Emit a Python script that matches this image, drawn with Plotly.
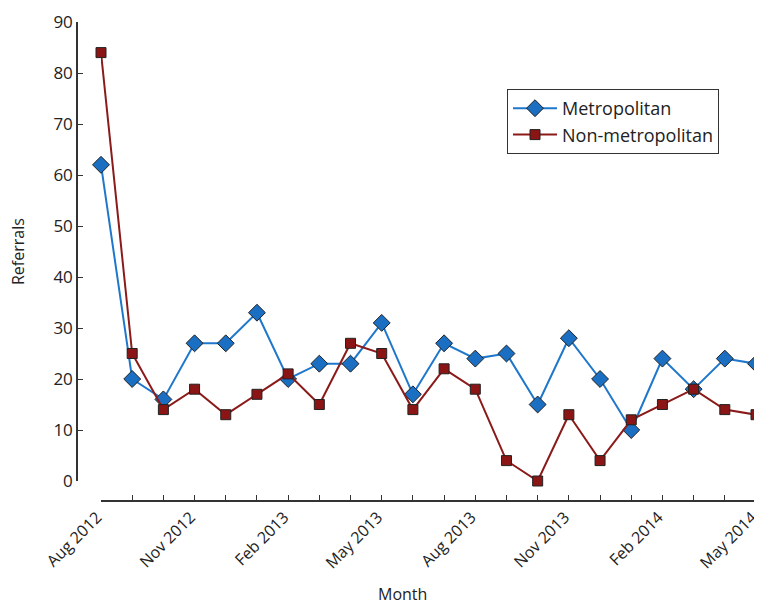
import plotly.graph_objects as go

months = ["Aug 2012", "Sep 2012", "Oct 2012", "Nov 2012", "Dec 2012", "Jan 2013",
          "Feb 2013", "Mar 2013", "Apr 2013", "May 2013", "Jun 2013", "Jul 2013",
          "Aug 2013", "Sep 2013", "Oct 2013", "Nov 2013", "Dec 2013", "Jan 2014",
          "Feb 2014", "Mar 2014", "Apr 2014", "May 2014"]
metropolitan = [62, 20, 16, 27, 27, 33, 20, 23, 23, 31, 17, 27, 24, 25, 15, 28, 20, 10, 24, 18, 24, 23]
non_metropolitan = [84, 25, 14, 18, 13, 17, 21, 15, 27, 25, 14, 22, 18, 4, 0, 13, 4, 12, 15, 18, 14, 13]
tick_labels = [m if i % 3 == 0 else "" for i, m in enumerate(months)]
y_ticks = [0, 10, 20, 30, 40, 50, 60, 70, 80, 90]

FONT = "Open Sans"
TXT = "#222222"

fig = go.Figure()
fig.add_trace(go.Scatter(
    x=months, y=metropolitan, name="Metropolitan", mode="lines+markers",
    line=dict(color="#1f77cc", width=2),
    marker=dict(symbol="diamond", size=13, color="#1a6fc2",
                line=dict(color="#222222", width=1)),
    cliponaxis=False))
fig.add_trace(go.Scatter(
    x=months, y=non_metropolitan, name="Non-metropolitan", mode="lines+markers",
    line=dict(color="#8b1a1a", width=2),
    marker=dict(symbol="square", size=10, color="#8b1414",
                line=dict(color="#222222", width=1)),
    cliponaxis=False))

# page body has an 8px margin; work in page pixels and offset
OFF = 8
W, H = 762 - OFF, 604 - OFF
L, T = 77 - OFF, 22 - OFF
R = 762 - 756
B = 604 - 501
pw, ph = W - L - R, H - T - B


def px_x(p):
    return (p - OFF - L) / pw


def px_y(p):
    return 1 - (p - OFF - T) / ph


xdom0 = (101 - 77) / pw
ydom0 = (501 - 481) / ph

fig.update_layout(
    width=W, height=H,
    margin=dict(l=L, r=R, t=T, b=B, pad=0, autoexpand=False),
    plot_bgcolor="white", paper_bgcolor="white",
    font=dict(family=FONT, color=TXT, size=16),
    showlegend=True,
    legend=dict(x=px_x(507), y=px_y(89), xanchor="left", yanchor="top",
                bordercolor="#333333", borderwidth=1, bgcolor="white",
                font=dict(family=FONT, size=18, color=TXT),
                itemwidth=44),
    xaxis=dict(
        type="category", range=[0, len(months) - 1],
        domain=[xdom0, 1], anchor="free", position=0,
        tickmode="array", tickvals=months, ticktext=tick_labels,
        tickangle=-45, ticks="inside", ticklen=5, tickwidth=1.3, tickcolor="#333333",
        ticklabelshift=-4,
        showline=True, linecolor="#333333", linewidth=1.5,
        showgrid=False, zeroline=False, automargin=False,
        tickfont=dict(family=FONT, size=16, color=TXT)),
    yaxis=dict(
        range=[0, 90], domain=[ydom0, 1], anchor="free", position=0,
        tickmode="array", tickvals=y_ticks,
        ticks="inside", ticklen=5, tickwidth=1.3, tickcolor="#333333",
        showline=True, linecolor="#333333", linewidth=1.5,
        showgrid=False, zeroline=False, automargin=False,
        tickfont=dict(family=FONT, size=17, color=TXT)),
    annotations=[
        dict(text="Referrals", xref="paper", yref="paper",
             x=px_x(18), y=px_y(252), textangle=-90,
             showarrow=False, xanchor="center", yanchor="middle",
             font=dict(family=FONT, size=16, color=TXT)),
        dict(text="Month", xref="paper", yref="paper",
             x=px_x(402), y=px_y(594),
             showarrow=False, xanchor="center", yanchor="middle",
             font=dict(family=FONT, size=16, color=TXT)),
    ],
)

fig.write_html("out.html")
